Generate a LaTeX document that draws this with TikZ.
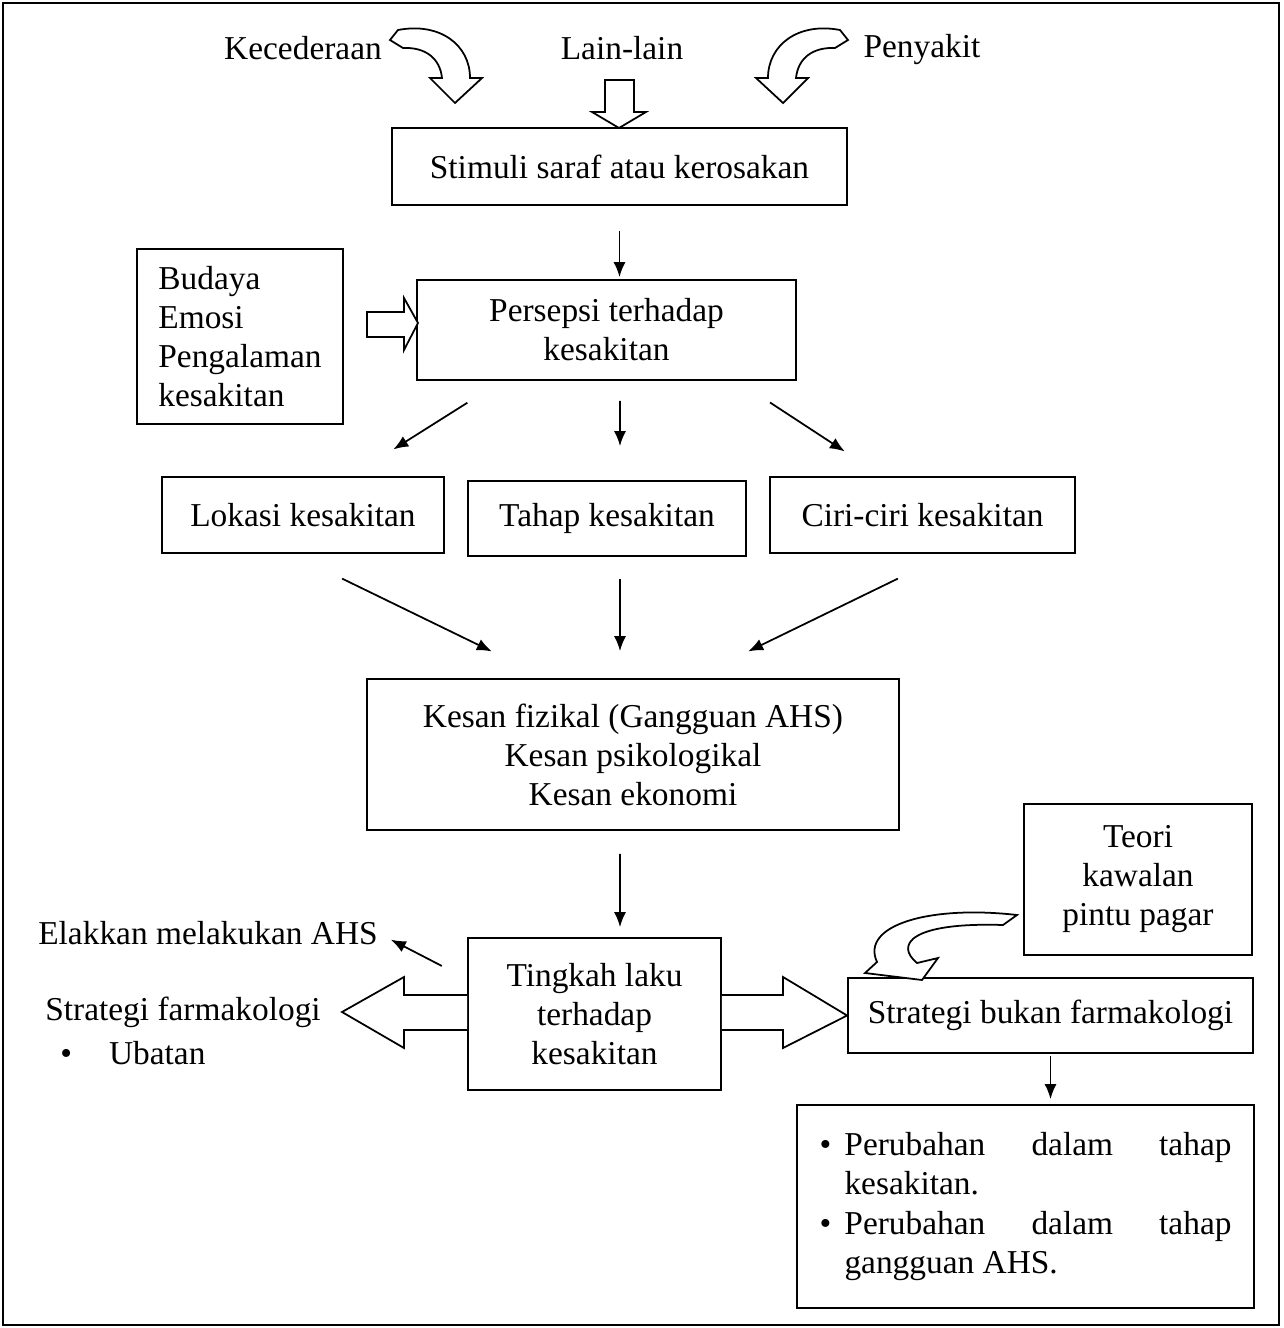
\documentclass[tikz,border=0pt]{standalone}
\usepackage{fontspec}
\setmainfont{Liberation Serif}
\usetikzlibrary{arrows.meta,calc}
\tikzstyle{box}=[shape = rectangle, draw, line width = 1pt, inner sep = 0pt, align = center, font = \fontsize{19}{22.2}\selectfont]
\tikzstyle{txt}=[inner sep = 0pt, font = \fontsize{19}{22.2}\selectfont]
\tikzstyle{arr}=[line width = 1pt, -{Latex[length=3mm, width=2.4mm]}]
\tikzstyle{blockArrow}=[draw, line width = 1pt, fill = white, line join = miter]

\begin{document}
\begin{tikzpicture}[x = 0.2mm, y = -0.2mm]
\useasboundingbox (0,0) rectangle (1283,1328);
\draw[line width = 1pt] (3,3) rectangle (1279,1325);
\node[txt] (kec) at (303,48) {Kecederaan};
\node[txt] (lain) at (622,48) {Lain-lain};
\node[txt] (peny) at (922,50) {Penyakit};
\node[box, minimum width = 91mm, minimum height = 15.4mm] (stim) at (619.5,166.5) {Stimuli saraf atau kerosakan};
\node[box, minimum width = 41.2mm, minimum height = 35mm, align = left] (bud) at (240,336.5) {Budaya\\Emosi\\Pengalaman\\kesakitan};
\node[box, minimum width = 75.8mm, minimum height = 20mm] (pers) at (606.5,330) {Persepsi terhadap\\kesakitan};
\node[box, minimum width = 56.4mm, minimum height = 15.2mm] (lok) at (303,515) {Lokasi kesakitan};
\node[box, minimum width = 55.6mm, minimum height = 15mm] (tahap) at (607,518.5) {Tahap kesakitan};
\node[box, minimum width = 61mm, minimum height = 15.2mm] (ciri) at (922.5,515) {Ciri-ciri kesakitan};
\node[box, minimum width = 106.4mm, minimum height = 30.2mm] (kesan) at (633,754.5) {Kesan fizikal (Gangguan AHS)\\Kesan psikologikal\\Kesan ekonomi};
\node[box, minimum width = 45.6mm, minimum height = 30.2mm] (teori) at (1138,879.5) {Teori\\kawalan\\pintu pagar};
\node[box, minimum width = 50.6mm, minimum height = 30.4mm] (tingkah) at (594.5,1014) {Tingkah laku\\terhadap\\kesakitan};
\node[box, minimum width = 81mm, minimum height = 15mm] (sbf) at (1050.5,1015.5) {Strategi bukan farmakologi};
\node[box, minimum width = 91.4mm, minimum height = 40.6mm, text width = 82.4mm, align = justify] (hasil) at (1025.5,1206.5) {\hyphenpenalty=10000\tolerance=10000\noindent\hangindent=5mm\hangafter=1\makebox[5mm][l]{\textbullet}Perubahan dalam tahap kesakitan.\par\noindent\hangindent=5mm\hangafter=1\makebox[5mm][l]{\textbullet}Perubahan dalam tahap gangguan AHS.\par};
\node[txt] (elak) at (208,933) {Elakkan melakukan AHS};
\node[txt] (sf) at (183,1012) {Strategi farmakologi};
\node[txt, anchor = west] (ubat) at (60,1053) {\textbullet\hspace{7.4mm}Ubatan};
\draw[blockArrow] (390,40) -- (398,30) .. controls (440,22) and (470,45) .. (470,78) -- (482,78) -- (455,103) -- (430,78) -- (442,78) .. controls (440,58) and (425,47) .. (403,48) -- cycle;
\begin{scope}[shift = {(1238,0)}, xscale = -1]
\draw[blockArrow] (390,40) -- (398,30) .. controls (440,22) and (470,45) .. (470,78) -- (482,78) -- (455,103) -- (430,78) -- (442,78) .. controls (440,58) and (425,47) .. (403,48) -- cycle;
\end{scope}
\draw[blockArrow] (605,80) -- (634,80) -- (634,112) -- (646,112) -- (619,128) -- (592,112) -- (605,112) -- cycle;
\draw[blockArrow] (367,312) -- (404,312) -- (404,298) -- (418,323) -- (404,350) -- (404,337) -- (367,337) -- cycle;
\draw[blockArrow] (tingkah.west |- 0,995) -- (404,995) -- (404,977) -- (sf.east -| 342,0) -- (404,1048) -- (404,1030) -- (tingkah.west |- 0,1030);
\draw[blockArrow] (tingkah.east |- 0,995) -- (783,995) -- (783,977) -- (sbf.west) -- (783,1048) -- (783,1030) -- (tingkah.east |- 0,1030);
\draw[blockArrow] (1017,915) .. controls (930,905) and (860,925) .. (877,962) -- (865,973) -- (922,980) -- (938,958) -- (917,963) .. controls (895,945) and (910,922) .. (1003,925) -- cycle;
\draw[arr, shorten <= 5mm, shorten >= 0.4mm] (stim.south) -- (stim.south |- pers.north);
\draw[arr, shorten <= 8.2mm, shorten >= 10mm] ($(pers.south)+(-104.5,0)$) -- ($(lok.north)+(48,0)$);
\draw[arr, shorten <= 4mm, shorten >= 6.8mm] ($(pers.south)+(13.5,0)$) -- ($(tahap.north)+(13,0)$);
\draw[arr, shorten <= 7.9mm, shorten >= 9mm] ($(pers.south)+(130.5,0)$) -- ($(ciri.north)+(-40,0)$);
\draw[arr, shorten <= 11.3mm, shorten >= 12.2mm] ($(lok.south)+(-11.7,0)$) -- ($(kesan.north)+(-86.3,0)$);
\draw[arr, shorten <= 4.4mm, shorten >= 5.4mm] ($(tahap.south)+(13,0)$) -- ($(kesan.north)+(-13,0)$);
\draw[arr, shorten <= 11.3mm, shorten >= 12.2mm] ($(ciri.south)+(26.2,0)$) -- ($(kesan.north)+(60.3,0)$);
\draw[arr, shorten <= 4.6mm, shorten >= 2mm] ($(kesan.south)+(-13,0)$) -- ($(tingkah.north)+(25.5,0)$);
\draw[arr, shorten <= 5.7mm, shorten >= 2.9mm] ($(tingkah.west)+(0,-35)$) -- (elak.east);
\draw[arr, shorten <= 0.4mm, shorten >= 1mm] (sbf.south) -- (sbf.south |- hasil.north);
\end{tikzpicture}
\end{document}
